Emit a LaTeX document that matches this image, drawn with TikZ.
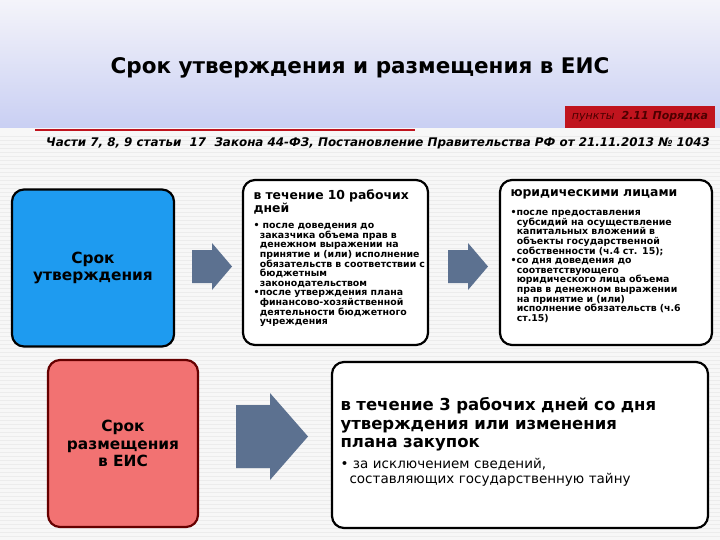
\documentclass[tikz,border=0pt]{standalone}
\usepackage{fontspec}
\setmainfont{DejaVu Sans}
\definecolor{bluebox}{HTML}{1E9BF0}
\definecolor{redbox}{HTML}{F27272}
\definecolor{arrowc}{HTML}{5C7190}
\definecolor{bandtop}{HTML}{F4F4FA}
\definecolor{bandbot}{HTML}{C9CFF3}
\definecolor{redline}{HTML}{C0141E}
\tikzset{
 card/.style={draw=black,line width=2.2pt,rounded corners=12pt,fill=white},
 bigarrow/.style={fill=arrowc,draw=none},
 small/.style={font=\fontsize{9.4}{9.6}\selectfont\bfseries,align=left,anchor=north west,text width=#1},
 head/.style={font=\fontsize{12.4}{13.5}\selectfont\bfseries,align=left,anchor=north west,text width=#1},
}
\begin{document}
\begin{tikzpicture}[x=1pt,y=-1pt]
\useasboundingbox (0,0) rectangle (720,540);
\fill[white!94!gray] (0,0) rectangle (720,540);
\foreach \yy in {136,140,...,540} \draw[white!85!gray,line width=0.4pt] (0,\yy) -- (720,\yy);
\shade[top color=bandtop,bottom color=bandbot] (0,0) rectangle (720,128);
\node (title) at (360,68) {\fontsize{21.5}{24}\selectfont\bfseries Срок утверждения и размещения в ЕИС};
\fill[redline] (565,106) rectangle (715,128);
\node (porjadok) at (640,117) {\fontsize{11}{12}\selectfont\itshape\color{black!70!red} пункты \ \textbf{2.11 Порядка}};
\draw[redline,line width=2.5pt] (35,130) -- (415,130);
\node (law) at (378,143) {\fontsize{11.9}{13}\selectfont\bfseries\itshape Части 7, 8, 9 статьи\ \ 17\ \ Закона 44-ФЗ, Постановление Правительства РФ от 21.11.2013 № 1043};
% blue box
\node[card,fill=bluebox,minimum width=162pt,minimum height=157pt,font=\fontsize{15.4}{17.5}\selectfont\bfseries,align=center] (utv) at (93,268) {Срок\\утверждения};
\fill[bigarrow] (192,250) -- (212,250) -- (212,243) -- (232,266.5) -- (212,290) -- (212,283) -- (192,283) -- cycle;
\node[card,minimum width=185pt,minimum height=165pt] (mid) at (335.5,262.5) {};
\node[head=175pt] (midh) at (250,186) {в течение 10 рабочих\\дней};
\node[small=180pt] (midt) at (250,220) {\textbullet\ после доведения до\\ \ \ заказчика объема прав в\\ \ \ денежном выражении на\\ \ \ принятие и (или) исполнение\\ \ \ обязательств в соответствии с\\ \ \ бюджетным\\ \ \ законодательством\\\textbullet после утверждения плана\\ \ \ финансово-хозяйственной\\ \ \ деятельности бюджетного\\ \ \ учреждения};
\fill[bigarrow] (448,250) -- (468,250) -- (468,243) -- (488,266.5) -- (468,290) -- (468,283) -- (448,283) -- cycle;
\node[card,minimum width=212pt,minimum height=165pt] (right) at (606,262.5) {};
\node[head=205pt] (righth) at (507,186) {юридическими лицами};
\node[small=205pt] (rightt) at (507,207) {\textbullet после предоставления\\ \ \ субсидий на осуществление\\ \ \ капитальных вложений в\\ \ \ объекты государственной\\ \ \ собственности (ч.4 ст. 15);\\\textbullet со дня доведения до\\ \ \ соответствующего\\ \ \ юридического лица объема\\ \ \ прав в денежном выражении\\ \ \ на принятие и (или)\\ \ \ исполнение обязательств (ч.6\\ \ \ ст.15)};
% red box
\node[card,fill=redbox,draw=red!40!black,minimum width=150pt,minimum height=167pt,font=\fontsize{15.4}{17.5}\selectfont\bfseries,align=center] (razm) at (123,443.5) {Срок\\размещения\\в ЕИС};
\fill[bigarrow] (236,405) -- (270,405) -- (270,393) -- (308,436.5) -- (270,480) -- (270,468) -- (236,468) -- cycle;
\node[card,minimum width=376pt,minimum height=166pt] (bot) at (520,445) {};
\node[font=\fontsize{16.5}{18.5}\selectfont\bfseries,align=left,anchor=north west,text width=370pt] (both) at (337,394) {в течение 3 рабочих дней со дня\\утверждения или изменения\\плана закупок};
\node[font=\fontsize{13.5}{15}\selectfont,align=left,anchor=north west,text width=370pt] (bott) at (337,455) {\textbullet\ за исключением сведений,\\ \ \ составляющих государственную тайну};
\end{tikzpicture}
\end{document}
